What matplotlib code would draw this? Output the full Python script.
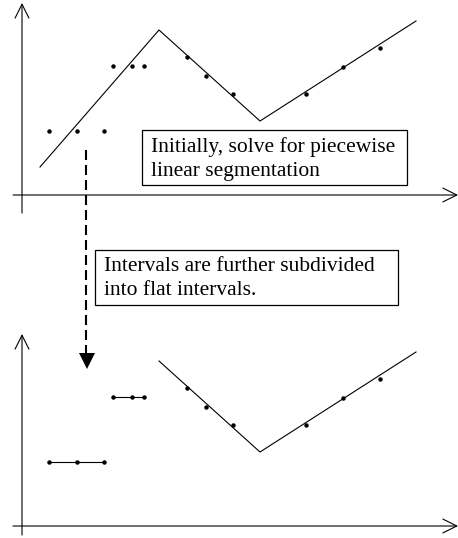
import matplotlib
matplotlib.use("Agg")
import matplotlib.pyplot as plt
from matplotlib.patches import Rectangle

plt.rcParams['font.family'] = ['Liberation Serif', 'DejaVu Serif']

# Datos de la serie (origen en el cruce de ejes, unidades ~ pixeles)
t_puntos = [27, 55, 82, 91, 110, 122, 165, 184, 211, 284, 321, 358]
v_puntos = [64, 64, 64, 129, 129, 129, 138, 119, 101, 101, 128, 147]

# Segmentacion lineal por tramos (vertices)
t_tramos = [18, 137, 238, 394]
v_tramos = [28, 165, 74, 174]

# Intervalos planos (indices de puntos y nivel)
planos = [(0, 3, 64), (3, 6, 129)]

texto_1 = ["Initially, solve for piecewise", "linear segmentation"]
texto_2 = ["Intervals are further subdivided", "into flat intervals."]

W, H = 458, 538
fig = plt.figure(figsize=(W / 100, H / 100), dpi=100)

ax_top = fig.add_axes([0, 1 - 220 / H, 1, 220 / H])
ax_top.set_xlim(-22, 436)
ax_top.set_ylim(-25, 195)
ax_bot = fig.add_axes([0, 0, 1, 318 / H])
ax_bot.set_xlim(-22, 436)
ax_bot.set_ylim(-12, 306)


def ejes(ax, y_min):
    flecha = dict(arrowstyle='->,head_length=10,head_width=5', mutation_scale=1,
                  lw=0.8, color='black', shrinkA=0, shrinkB=0)
    ax.annotate('', xy=(436, 0), xytext=(-9, 0), arrowprops=flecha, annotation_clip=False)
    ax.annotate('', xy=(0, 192), xytext=(0, y_min), arrowprops=flecha, annotation_clip=False)
    ax.axis('off')


ejes(ax_top, -18)
ejes(ax_bot, -9)

# Panel superior
ax_top.plot(t_tramos, v_tramos, color='black', lw=0.8)
ax_top.plot(t_puntos, v_puntos, 'o', color='black', ms=2.2)

# Panel inferior
for i0, i1, nivel in planos:
    ax_bot.plot(t_puntos[i0:i1], [nivel] * (i1 - i0), '-o', color='black', lw=0.8, ms=2.2)
ax_bot.plot(t_tramos[1:], v_tramos[1:], color='black', lw=0.8)
ax_bot.plot(t_puntos[6:], v_puntos[6:], 'o', color='black', ms=2.2)

# Capa de anotaciones en pixeles
ax_n = fig.add_axes([0, 0, 1, 1])
ax_n.set_xlim(0, W)
ax_n.set_ylim(H, 0)
ax_n.axis('off')

ax_n.plot([86, 86], [150, 356], color='black', lw=1.5, ls=(0, (4.8, 2.4)))
ax_n.plot([87], [361], marker='v', color='black', ms=11, mew=0)

ax_n.add_patch(Rectangle((142, 130), 265, 55, fill=False, lw=0.9, ec='black'))
ax_n.add_patch(Rectangle((95, 250), 303, 55, fill=False, lw=0.9, ec='black'))
for i, linea in enumerate(texto_1):
    ax_n.text(151, 152 + 24 * i, linea, fontsize=15.5, va='baseline', ha='left')
for i, linea in enumerate(texto_2):
    ax_n.text(104, 271 + 24 * i, linea, fontsize=15.5, va='baseline', ha='left')

fig.savefig('out.png', dpi=100)
